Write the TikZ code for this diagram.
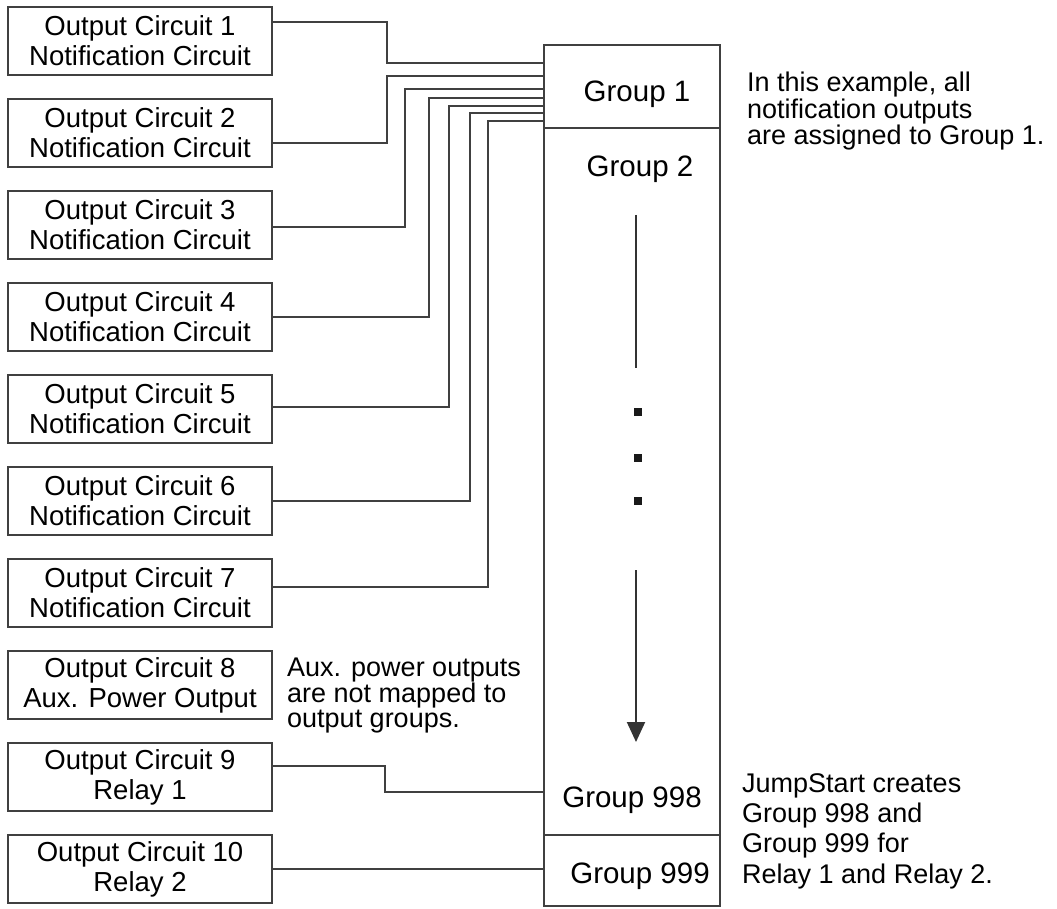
\documentclass[tikz,border=0pt]{standalone}
\usepackage{fontspec}
\setmainfont{Liberation Sans}
\usetikzlibrary{positioning,arrows.meta}

\begin{document}
\begin{tikzpicture}[
            x=1pt, y=-1pt,
            oc/.style={draw=black!75,line width=2pt,rectangle,minimum width=264pt,minimum height=68pt,inner sep=0pt,outer sep=0pt,align=center,font=\fontsize{27.5}{30}\selectfont},
            grp/.style={draw=black!75,line width=2pt,rectangle,minimum width=176pt,inner sep=0pt,outer sep=0pt},
            glabel/.style={anchor=base,inner sep=0pt,font=\fontsize{29.5}{32}\selectfont},
            note/.style={anchor=base west,inner sep=0pt,align=left},
            wire/.style={draw=black!75,line width=2pt},
        ]

        \tikzset{
            node distance=24pt,
        }
        \useasboundingbox (0,0) rectangle (1057,909);

        % output circuits
        \node[oc] (oc1) at (140,41) {Output Circuit 1\\Notification Circuit};
        \foreach \i [count=\j from 1] in {2,...,7}
            \node[oc,below=of oc\j] (oc\i) {Output Circuit \i\\Notification Circuit};
        \node[oc,below=of oc7] (oc8) {Output Circuit 8\\Aux. Power Output};
        \node[oc,below=of oc8] (oc9) {Output Circuit 9\\Relay 1};
        \node[oc,below=of oc9] (oc10) {Output Circuit 10\\Relay 2};

        % output groups
        \node[grp,minimum height=83pt] (g1) at (632,86.5) {};
        \node[grp,minimum height=707pt,below=0pt of g1] (gmid) {};
        \node[grp,minimum height=71pt,below=0pt of gmid] (g999) {};
        \node[glabel] (t1) at (637,102) {Group 1};
        \node[glabel] (t2) at (640,177) {Group 2};
        \node[glabel] (t998) at (632,807) {Group 998};
        \node[glabel] (t999) at (640,883) {Group 999};

        \draw[line width=2pt,black!80] (636,215) -- (636,368);
        \foreach \y in {412,458,501}
            \fill[black!90] (634,\y-4) rectangle (642,\y+4);
        \draw[line width=2pt,black!80,-{Triangle[width=18pt,length=20pt]}] (636,570) -- (636,742);

        % wires
        \foreach \i/\sh/\vx/\ey in {1/19/387/63, 2/-10/387/76, 3/-2/405/89, 4/0/429/98, 5/2/449/106, 6/0/470/113, 7/6/488/121}
            \draw[wire] ([yshift=\sh pt]oc\i.east) -| (\vx,\ey) -- (g1.west |- 0,\ey);
        \draw[wire] ([yshift=11pt]oc9.east) -| (385,792) -- (gmid.west |- 0,792);
        \draw[wire] (oc10.east) -- (oc10.east -| g999.west);

        % notes (base = last line)
        \node[note,font=\fontsize{27}{26.7}\selectfont] (n1) at (747,145) {In this example, all\\notification outputs\\are assigned to Group 1.};
        \node[note,font=\fontsize{27}{24.5}\selectfont] (n2) at (287,727) {Aux. power outputs\\are not mapped to\\output groups.};
        \node[note,font=\fontsize{27}{30.3}\selectfont] (n3) at (742,883) {JumpStart creates\\Group 998 and\\Group 999 for\\Relay 1 and Relay 2.};

    \end{tikzpicture}
\end{document}
